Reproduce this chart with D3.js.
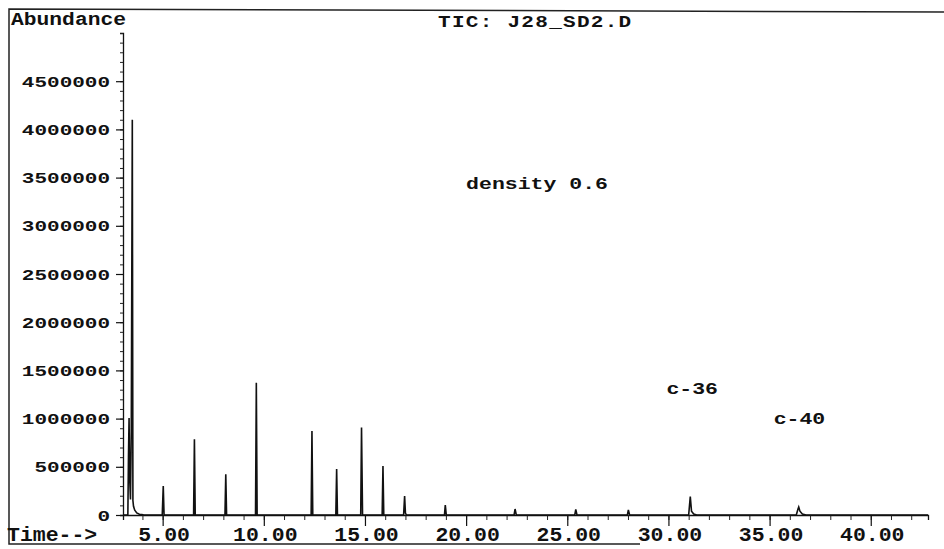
<!DOCTYPE html>
<html>
<head>
<meta charset="utf-8">
<script src="https://cdn.jsdelivr.net/npm/d3@7"></script>
<style>
  body { margin: 0; background: #fff; }
  svg { display: block; }
  text { font-family: "Liberation Mono", "DejaVu Sans Mono", monospace; font-weight: bold; fill: #111; }
</style>
</head>
<body>
<div id="chart"></div>
<script>
// retention times (min) of the trace
var traceTime = [3.04, 3.28, 3.31, 3.34, 3.37, 3.41, 3.45, 3.50, 3.53, 3.56, 3.62, 3.72, 3.85, 4.05, 4.40,
  4.98, 5.03, 5.07,
  6.53, 6.57, 6.61,
  8.08, 8.12, 8.16,
  9.59, 9.63, 9.67,
  12.34, 12.38, 12.42,
  13.56, 13.60, 13.64,
  14.79, 14.83, 14.88,
  15.85, 15.89, 15.93,
  16.91, 16.96, 17.00, 17.05,
  18.93, 18.97, 19.02,
  22.37, 22.42, 22.48,
  25.37, 25.42, 25.48,
  27.97, 28.02, 28.08,
  31.00, 31.08, 31.14, 31.25, 31.40,
  36.32, 36.40, 36.44, 36.50, 36.62, 36.80,
  42.83];

// abundance at each of those times
var traceAbundance = [0, 0, 600000, 1006000, 380000, 160000, 900000, 4100000, 150000, 90000, 50000, 22000, 8000, 2000, 0,
  0, 301000, 0,
  0, 785000, 0,
  0, 422000, 0,
  0, 1372000, 0,
  0, 871000, 0,
  0, 477000, 0,
  0, 908000, 0,
  0, 508000, 0,
  0, 197000, 20000, 0,
  0, 104000, 0,
  0, 62000, 0,
  0, 57000, 0,
  0, 52000, 0,
  0, 190000, 40000, 10000, 0,
  0, 60000, 83000, 40000, 10000, 0,
  0];

var xTickValues = [5, 10, 15, 20, 25, 30, 35, 40];
var xMinorValues = d3.range(4, 43);
var yTickValues = [0, 500000, 1000000, 1500000, 2000000, 2500000, 3000000, 3500000, 4000000, 4500000];
var yMinorValues = d3.range(0, 5000001, 100000);

var notes = [
  {text: "density 0.6", t: 20.0, v: 3380000},
  {text: "c-36", t: 29.9, v: 1260000},
  {text: "c-40", t: 35.2, v: 940000}
];

var width = 944, height = 549;

// the printout font is a wide courier, so glyphs are drawn big and squashed vertically
function squash(sel, sy) {
  sel.each(function() {
    var t = d3.select(this);
    var x = +t.attr("x") || 0, y = +t.attr("y") || 0;
    t.attr("x", 0).attr("y", 0).attr("dy", null)
      .attr("transform", "translate(" + x + "," + y + ") scale(1," + sy + ")");
  });
}

var svg = d3.select("#chart").append("svg")
  .attr("width", width)
  .attr("height", height);

svg.append("rect").attr("width", width).attr("height", height).attr("fill", "#fff");

// scales
var xScale = d3.scaleLinear().domain([3.04, 42.83]).range([123, 928]);
var yScale = d3.scaleLinear().domain([0, 5000000]).range([515, 33]);

// frame of the printout
svg.append("path")
  .attr("d", "M944,12 L9,9 L9,544 L640,544")
  .attr("fill", "none")
  .attr("stroke", "#222")
  .attr("stroke-width", 1.5);

// y axis: minor ticks then labelled ticks
svg.append("g")
  .attr("transform", "translate(" + xScale.range()[0] + ",0)")
  .call(d3.axisLeft(yScale).tickValues(yMinorValues).tickSize(3).tickFormat(""))
  .call(function(g) { g.selectAll("line").attr("stroke", "#222"); g.select(".domain").attr("stroke", "#111").attr("stroke-width", 1.3); });

var yAxis = svg.append("g")
  .attr("transform", "translate(" + xScale.range()[0] + ",0)")
  .call(d3.axisLeft(yScale).tickValues(yTickValues).tickSize(7).tickFormat(d3.format("d")));
yAxis.select(".domain").remove();
yAxis.selectAll("line").attr("stroke", "#111").attr("stroke-width", 1.2);
yAxis.selectAll("text")
  .attr("x", -13).attr("y", 5)
  .style("font-size", "21px")
  .attr("fill", "#111")
  .call(squash, 0.72);

// x axis
svg.append("g")
  .attr("transform", "translate(0," + yScale(0) + ")")
  .call(d3.axisBottom(xScale).tickValues(xMinorValues).tickSize(5).tickFormat(""))
  .call(function(g) { g.selectAll("line").attr("stroke", "#222"); g.select(".domain").attr("stroke", "#111").attr("stroke-width", 1.3); });

var xAxis = svg.append("g")
  .attr("transform", "translate(0," + yScale(0) + ")")
  .call(d3.axisBottom(xScale).tickValues(xTickValues).tickSize(11).tickFormat(d3.format(".2f")));
xAxis.select(".domain").remove();
xAxis.selectAll("line").attr("stroke", "#111").attr("stroke-width", 1.2);
xAxis.selectAll("text")
  .attr("x", 1).attr("y", 26)
  .style("font-size", "21.5px")
  .attr("fill", "#111")
  .call(squash, 0.9);

// the trace
var line = d3.line()
  .x(function(d, i) { return xScale(traceTime[i]); })
  .y(function(d) { return yScale(d); });

svg.append("path")
  .datum(traceAbundance)
  .attr("fill", "none")
  .attr("stroke", "#111")
  .attr("stroke-width", 1.6)
  .attr("stroke-linejoin", "miter")
  .attr("d", line);

// labels
svg.append("text")
  .attr("x", 11).attr("y", 25)
  .style("font-size", "21.3px")
  .text("Abundance")
  .call(squash, 0.86);

svg.append("text")
  .attr("x", 438).attr("y", 27)
  .style("font-size", "21px").style("letter-spacing", "1.3px")
  .text("TIC: J28_SD2.D")
  .call(squash, 0.75);

svg.append("text")
  .attr("x", 7).attr("y", 541)
  .style("font-size", "21.5px")
  .text("Time-->")
  .call(squash, 0.9);

svg.selectAll(".note")
  .data(notes)
  .enter().append("text")
  .attr("class", "note")
  .attr("x", function(d) { return xScale(d.t); })
  .attr("y", function(d) { return yScale(d.v); })
  .style("font-size", "21.5px")
  .text(function(d) { return d.text; })
  .call(squash, 0.8);
</script>
</body>
</html>
